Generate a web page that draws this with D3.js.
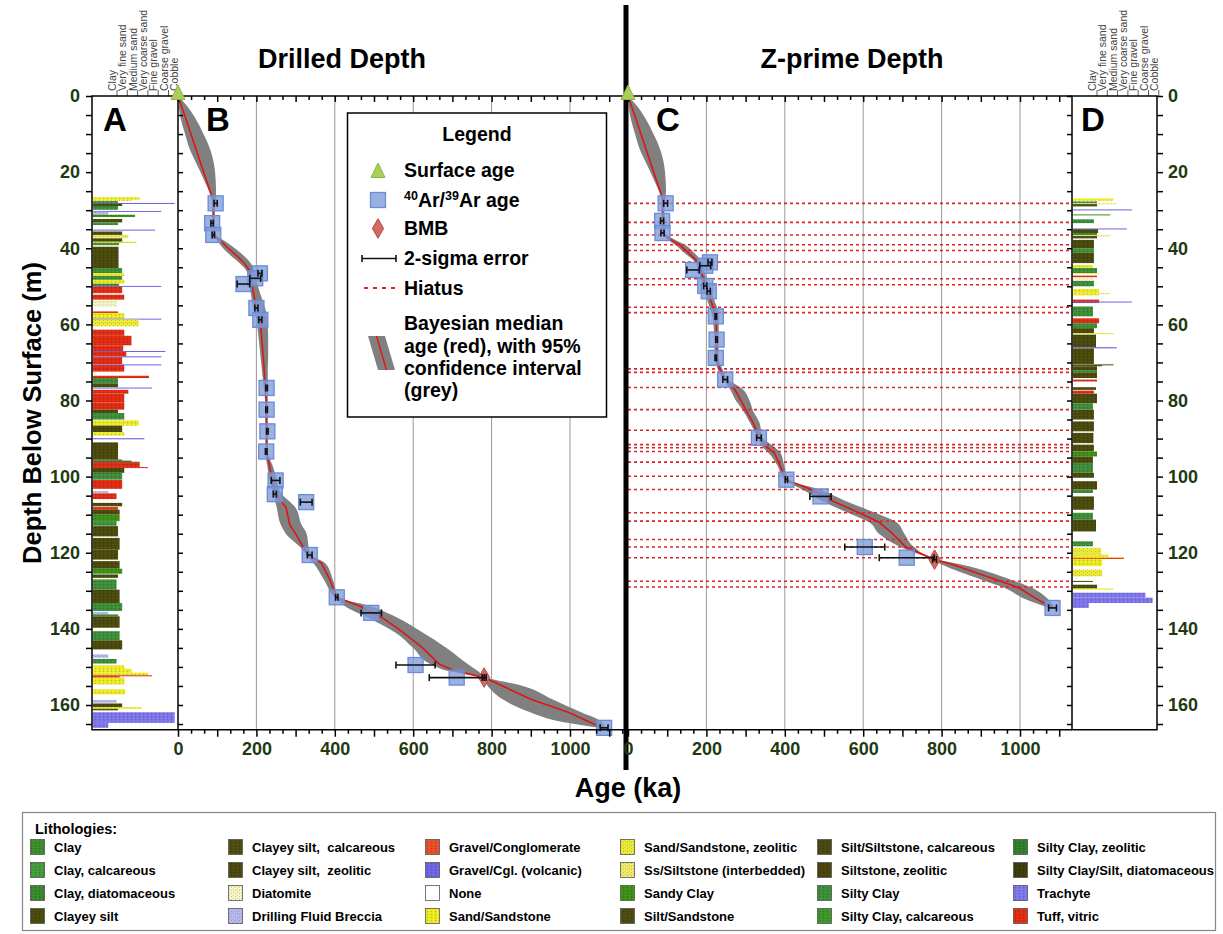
<!DOCTYPE html>
<html><head><meta charset="utf-8">
<script src="https://cdn.jsdelivr.net/npm/d3@7"></script>
<style>
html,body{margin:0;padding:0;background:#fff;}
svg{display:block;font-family:"Liberation Sans",Arial,Helvetica,sans-serif;}
</style></head><body>
<svg id="chart" width="1223" height="934"></svg>
<script>
// ---------- lithology legend ----------
const lithCodes = ["CL","CLc","CLd","CS","CSc","CSz","DI","DB","GC","GV","NO","SS",
                   "SSz","SSi","SC","SiS","SiSc","SiZ","SYC","SYCc","SYCz","SYCd","TR","TV"];
const lithNames = ["Clay","Clay, calcareous","Clay, diatomaceous","Clayey silt",
  "Clayey silt,  calcareous","Clayey silt,  zeolitic","Diatomite","Drilling Fluid Breccia",
  "Gravel/Conglomerate","Gravel/Cgl. (volcanic)","None","Sand/Sandstone",
  "Sand/Sandstone, zeolitic","Ss/Siltstone (interbedded)","Sandy Clay","Silt/Sandstone",
  "Silt/Siltstone, calcareous","Siltstone, zeolitic","Silty Clay","Silty Clay, calcareous",
  "Silty Clay, zeolitic","Silty Clay/Silt, diatomaceous","Trachyte","Tuff, vitric"];
const lithFills = ["#3b8a2c","#42993a","#37872e","#4a4a0e","#4e4b12","#4b4710","#f7f5c4","#b9b8f0",
  "#e0502a","#6d63e0","#ffffff","#e9e624","#eceb3a","#f0ea6a","#3a9015","#4c4a12",
  "#4a4712","#4a430e","#3d8c3a","#3c9428","#2f7d2c","#3e3c0c","#7d74ea","#dd2c14"];

// grain-size column header
const grainLabels = ["Clay","Very fine sand","Medium sand","Very coarse sand","Fine gravel","Coarse gravel","Cobble"];

// ---------- lithology logs: [top m, base m, lithology code, grain size index] ----------
const logA = [
 [26.6,27.3,"SS",2.3],[27.3,27.6,"SSi",1.5],[27.6,28.1,"SYC",0.2],[28.1,28.3,"GV",5.7],
 [28.3,28.9,"CS",0.6],[28.9,29.9,"SYC",0.2],[30.2,30.4,"GV",4.4],[30.4,31.2,"DB",-0.75],
 [31.2,31.8,"SC",1.85],[32.3,33.2,"CS",0.6],[33.2,33.9,"SYC",0.2],[35.1,35.3,"GV",3.8],
 [35.6,36.5,"CS",0.6],[36.5,37.4,"SSi",1.2],[37.4,38.3,"CS",0.6],[38.3,38.6,"SS",2.0],
 [38.6,39.2,"SYC",0.3],[39.6,45.2,"CS",0.25],[45.2,46.5,"SYC",0.6],[46.5,47.3,"SSz",0.8],
 [47.3,48.3,"SYC",0.6],[48.3,49.3,"SS",0.8],[49.3,49.9,"SYC",0.3],[49.9,50.1,"GV",4.4],
 [50.1,51.8,"TV",0.6],[52.2,53.5,"TV",0.8],[53.7,55.3,"DI",0.1],[56.6,57.0,"TV",0.2],
 [57.0,58.5,"SS",0.8],[58.5,58.7,"GV",4.4],[58.7,60.5,"SSz",2.2],[61.4,63.0,"TV",0.8],
 [63.0,65.5,"TV",1.5],[65.5,67.0,"TV",0.7],[67.0,67.2,"GV",4.8],[67.2,68.4,"TV",1.0],
 [68.4,68.6,"GV",4.4],[68.6,70.5,"TV",0.6],[70.5,70.7,"GV",4.4],[70.7,72.4,"TV",0.8],
 [73.5,74.1,"TV",3.2],[74.1,75.5,"SYC",0.2],[75.5,76.5,"CS",0.2],[76.6,76.8,"GV",3.5],
 [77.2,78.2,"TV",1.2],[78.2,80.5,"TV",0.8],[80.5,82.4,"TV",0.8],[82.4,83.3,"CS",0.2],
 [83.3,85.0,"SYC",0.8],[85.2,86.6,"SS",2.2],[86.6,88.3,"CS",0.6],[88.3,89.2,"SS",0.8],
 [89.9,90.2,"GV",2.75],[91.0,95.5,"CS",0.2],[95.5,95.8,"CS",0.6],[95.8,96.1,"CS",1.5],
 [96.1,96.3,"CS",2.3],[96.3,97.5,"TV",2.3],[97.5,97.7,"TV",3.1],[97.7,99.0,"CS",0.8],
 [99.0,100.8,"SYC",0.6],[100.9,103.2,"TV",0.6],[103.8,104.4,"DB",-0.75],[104.4,105.9,"TV",0.05],
 [106.9,107.8,"CS",0.6],[108.0,108.7,"TV",0.2],[108.7,110.0,"CS",0.35],[110.0,111.7,"SC",0.35],
 [111.7,112.9,"SYC",0.05],[113.0,115.7,"CS",0.2],[116.1,119.2,"CS",0.35],[119.2,121.8,"CS",0.2],
 [122.2,124.2,"CS",0.35],[124.2,125.5,"SC",0.6],[125.7,126.6,"CS",0.2],[127.0,129.7,"SYC",0.05],
 [129.7,133.2,"CS",0.35],[133.2,135.3,"SYC",0.6],[135.5,136.2,"DB",-0.75],[136.2,136.7,"SYC",0.2],
 [136.7,139.7,"CS",0.35],[140.6,143.0,"SYC",0.35],[143.0,145.4,"CS",0.6],[146.7,147.6,"DB",-0.75],
 [147.9,149.1,"SYC",0.05],[149.6,150.5,"SS",0.8],[150.5,151.5,"SS",1.5],[151.5,152.2,"SS",3.1],
 [152.2,152.4,"TV",3.5],[152.4,152.8,"TV",0.35],[152.8,154.6,"SS",0.8],[155.9,157.2,"SS",0.9],
 [158.7,159.4,"DB",0.05],[159.6,160.6,"CS",0.6],[160.6,161.0,"SS",2.5],[161.0,161.4,"CS",0.2],
 [161.9,164.7,"TR",5.7],[164.7,166.0,"TR",-0.75]
];
const logD = [
 [26.9,27.5,"SS",1.7],[27.7,28.2,"SYC",0.1],[28.2,28.4,"SSi",2.0],[28.4,29.0,"CS",0.1],
 [29.8,30.0,"GV",3.5],[31.1,31.3,"SC",1.4],[32.4,33.4,"SYC",-0.2],[34.8,35.0,"GV",3.0],
 [35.0,36.0,"CS",0.2],[36.0,36.6,"SYC",0.1],[36.6,36.8,"SSi",1.4],[36.8,37.4,"CS",0.1],
 [37.8,40.0,"CS",-0.2],[40.0,41.2,"SYC",-0.2],[41.2,43.9,"CS",-0.2],[44.4,45.2,"SSz",-0.3],
 [45.2,46.5,"SYC",0.1],[46.5,46.7,"SSi",0.3],[47.2,47.6,"TV",0.1],[47.9,48.6,"DI",-0.2],
 [48.6,50.0,"SYC",-0.2],[50.7,51.8,"SS",0.3],[51.8,52.0,"SSi",1.4],[52.0,52.4,"SS",0.3],
 [53.5,54.4,"TV",0.3],[54.0,54.2,"GV",3.5],[55.3,57.9,"SYC",-0.3],[58.4,59.7,"TV",0.3],
 [59.7,61.0,"SYC",0.1],[61.0,62.3,"CS",-0.2],[62.3,62.5,"SS",1.7],[62.7,66.0,"CS",0.0],
 [66.0,66.3,"GV",2.0],[66.3,70.4,"CS",-0.2],[70.5,70.7,"CS",1.7],[70.7,71.0,"CS",0.6],
 [71.0,72.0,"CS",0.1],[72.0,72.6,"SYC",0.1],[72.6,74.1,"CS",0.1],[74.5,75.0,"TV",0.1],
 [76.5,77.2,"CS",0.0],[77.4,78.2,"TV",-0.2],[78.2,80.7,"CS",0.1],[80.7,82.4,"SYC",-0.3],
 [82.4,85.0,"CS",-0.2],[85.5,88.1,"CS",-0.2],[88.5,91.2,"CS",-0.25],[91.6,93.4,"CS",-0.2],
 [93.4,94.7,"SC",0.1],[94.7,96.4,"CS",-0.3],[96.4,99.0,"SYC",-0.3],[99.0,100.3,"CS",-0.2],
 [101.2,103.4,"CS",0.1],[103.4,104.3,"SYC",-0.3],[105.2,108.7,"CS",-0.2],[109.5,111.3,"SYC",-0.3],
 [111.3,114.4,"CS",0.0],[117.0,118.3,"SYC",-0.3],[118.7,120.5,"SSz",0.5],[120.5,121.2,"SS",1.2],
 [121.2,121.6,"SS",2.7],[121.35,121.5,"TV",2.7],[121.6,123.5,"SS",0.6],[124.4,126.2,"SSz",0.6],
 [127.4,127.6,"CS",-0.3],[128.4,129.4,"CS",0.1],[129.4,129.7,"SS",1.7],[130.5,131.8,"TR",4.8],
 [131.8,133.2,"TR",5.5],[133.2,134.5,"TR",-0.7]
];

// ---------- Drilled depth (panel B) ----------
const arAgeB   = [96, 87, 90, 209, 197, 167, 200, 210, 226, 226, 228, 225, 249, 247, 327, 336, 405, 493, 606, 711, 1087];
const arDepthB = [28.2, 33.4, 36.5, 46.6, 47.9, 49.4, 55.7, 58.8, 76.7, 82.4, 88.1, 93.4, 101.0, 104.6, 106.7, 120.6, 131.7, 135.8, 149.5, 152.8, 166.0];
const arErrB   = [4, 3, 3, 5, 14, 16, 4, 4, 2, 2, 2, 2, 11, 4, 15, 6, 3, 26, 50, 70, 10];
const bmbB = {age: 781, depth: 152.8, err: 5};

const bDepth = [0,3,6,10,14,18,22,25,27.5,30,34,36.5,38,40,42,44,46,48.5,52,55.7,58.8,63,68,72,76,80,88,93.8,97.3,100,104.2,108.2,112.6,115,119.2,121,122.7,127,131.7,134,137.1,141,145,149.3,151.1,152.8,155,158.5,162,164,166];
const bLo  = [0,2,7,18,30,48,66,79,87,88,88,89,100,115,135,158,175,180,186,192,200,205,210,214,218,222,223,223,228,232,242,252,262,275,318,330,345,372,400,425,485,555,600,645,690,775,790,828,900,960,1075];
const bMed = [0,10,20,33,46,59,72,82,90,90,90,92,108,128,150,170,183,186,193,200,210,213,217,220,222,225,226,226,234,238,247,276,285,300,323,336,366,387,405,463,522,575,624,667,709,781,828,900,997,1040,1082];
const bHi  = [0,26,45,65,82,92,96,97,97,94,94,96,118,145,168,186,195,200,210,222,228,230,230,229,229,229,229,230,242,250,262,300,315,328,335,345,375,395,410,490,560,625,685,740,765,787,880,955,1030,1075,1090];

// ---------- Z-prime depth (panel C) ----------
const arAgeC   = [96, 87, 88, 209, 197, 166, 197, 206, 224, 226, 224, 248, 334, 404, 491, 604, 711, 1083];
const arDepthC = [28.2, 32.8, 36.0, 43.7, 44.6, 45.7, 49.9, 51.3, 57.9, 64.0, 68.8, 74.5, 89.8, 100.8, 105.2, 118.5, 121.3, 134.5];
const arErrC   = [5, 4, 4, 5, 14, 16, 4, 4, 2, 2, 2, 6, 6, 3, 27, 51, 70, 10];
const bmbC = {age: 782, depth: 121.8, err: 5};

const cDepth = [0,3,6,10,14,18,22,25,27.3,30,33,36,37.5,39.1,41.3,43.5,46,49.5,53,57.9,63,68.8,71.5,74.5,77,80,82.4,86,89.6,92.1,93.9,96.9,100.8,103.4,106.4,109.9,112,115,118.5,121.8,123.1,127,129.2,132,134.5];
const cLo  = [0,2,7,18,30,48,66,79,86,86,86,87,98,120,145,170,180,190,200,215,220,221,228,243,260,275,292,312,330,342,360,380,400,445,495,570,615,640,695,776,800,900,960,1010,1076];
const cMed = [0,10,20,33,46,59,72,82,88,88,88,90,105,132,155,178,186,197,209,224,226,226,234,248,272,288,300,320,334,353,374,387,404,467,522,598,641,675,709,782,828,938,997,1040,1083];
const cHi  = [0,26,45,65,82,92,96,97,95,93,93,95,115,145,170,188,194,206,218,232,231,231,240,256,292,310,318,336,342,372,390,398,410,490,555,640,685,705,730,788,850,975,1030,1070,1090];

// hiatus levels (Z-prime depth, m)
const hiatusZ = [28.2,33.2,36.5,39.1,40.6,43.6,48.0,49.6,55.5,56.9,71.7,72.6,76.6,82.4,87.8,91.6,92.4,93.4,96.2,99.9,103.4,109.5,111.7,116.5,118.5,121.3,127.5,129.0];

const ageTicks = [0,200,400,600,800,1000];
const depthTicks = [0,20,40,60,80,100,120,140,160];

// ================= drawing =================
const svg = d3.select("#chart");
svg.append("rect").attr("width",1223).attr("height",934).attr("fill","#fff");
const defs = svg.append("defs");
const tickColor = "#1f3a12";

const DEPTH_MAX = 166.5;
const y = d3.scaleLinear().domain([0,160]).range([96,705]);
const yTop = y(0), yBot = y(DEPTH_MAX);
const A = {left:92, right:178}, D = {left:1072, right:1157};
const xB = d3.scaleLinear().domain([0,1000]).range([178,570]);
const xC = d3.scaleLinear().domain([0,1000]).range([628,1020]);
const bRight = 624, cRight = 1072;
const grain = left => d3.scaleLinear().domain([0,6]).range([left+24, left+24+61.8]);

// lithology fill patterns
lithCodes.forEach((code,i)=>{
  const base = lithFills[i];
  const p = defs.append("pattern").attr("id","lith-"+code)
    .attr("patternUnits","userSpaceOnUse").attr("width",4).attr("height",3);
  p.append("rect").attr("width",4).attr("height",3).attr("fill",base);
  if (code !== "NO") {
    const c = d3.color(base);
    const dot = (c.r+c.g+c.b > 500) ? c.darker(0.5) : c.brighter(0.5);
    p.append("rect").attr("x",1).attr("y",1).attr("width",1).attr("height",1).attr("fill",dot);
    p.append("rect").attr("x",3).attr("y",2).attr("width",1).attr("height",1).attr("fill",c.darker(0.6));
  }
});

// vertical grid
function grid(x) {
  svg.append("g").selectAll("line").data(ageTicks.slice(1)).join("line")
    .attr("x1",d=>x(d)).attr("x2",d=>x(d)).attr("y1",yTop).attr("y2",yBot)
    .attr("stroke","#9a9a9a").attr("stroke-width",1);
}
grid(xB); grid(xC);

// lithology columns
function drawLog(log, P) {
  const gx = grain(P.left);
  svg.append("g").selectAll("rect").data(log).join("rect")
    .attr("x",P.left+0.75)
    .attr("y",d=>y(d[0]))
    .attr("width",d=>Math.max(1, gx(d[3]) - P.left - 0.75))
    .attr("height",d=>Math.max(1, y(d[1]) - y(d[0])))
    .attr("fill",d=>`url(#lith-${d[2]})`);
}
drawLog(logA, A); drawLog(logD, D);

// grain-size headers
function header(P) {
  const gx = grain(P.left);
  const g = svg.append("g");
  grainLabels.forEach((t,i)=>{
    g.append("text").attr("transform",`translate(${gx(i)},91) rotate(-90)`)
      .attr("font-size",10.5).attr("fill","#444").text(t);
    g.append("line").attr("x1",gx(i)+1).attr("x2",gx(i)+1).attr("y1",90).attr("y2",96)
      .attr("stroke","#333").attr("stroke-width",0.8);
  });
}
header(A); header(D);

// confidence band + median + hiatus + samples
function ageModel(x, depth, lo, med, hi, ages, depths, errs, bmb, hiatus, right) {
  const rows = depth.map((d,i)=>({d, lo:lo[i], med:med[i], hi:hi[i]}));
  svg.append("path").datum(rows)
    .attr("d", d3.area().curve(d3.curveMonotoneY).y(r=>y(r.d)).x0(r=>x(r.lo)).x1(r=>x(r.hi)))
    .attr("fill","#808080");
  if (hiatus) {
    svg.append("g").selectAll("line").data(hiatus).join("line")
      .attr("x1",x(0)).attr("x2",right).attr("y1",d=>y(d)).attr("y2",d=>y(d))
      .attr("stroke","#e02424").attr("stroke-width",1.6).attr("stroke-dasharray","3,3");
  }
  svg.append("path").datum(rows)
    .attr("d", d3.line().y(r=>y(r.d)).x(r=>x(r.med)))
    .attr("fill","none").attr("stroke","#e01414").attr("stroke-width",1.6);
  const pts = ages.map((a,i)=>({a, d:depths[i], e:errs[i]}));
  svg.append("g").selectAll("rect").data(pts).join("rect")
    .attr("x",p=>x(p.a)-7.5).attr("y",p=>y(p.d)-7.5).attr("width",15).attr("height",15)
    .attr("fill","rgba(125,155,218,0.78)").attr("stroke","#6b8cd4").attr("stroke-width",1.3);
  // BMB
  svg.append("path")
    .attr("d", d3.symbol().type(d3.symbolDiamond).size(110)())
    .attr("transform",`translate(${x(bmb.age)},${y(bmb.depth)})`)
    .attr("fill","#d46a60").attr("stroke","#b04a42").attr("stroke-width",1);
  const eb = svg.append("g").attr("stroke","#111").attr("stroke-width",1.6);
  pts.concat([{a:bmb.age, d:bmb.depth, e:bmb.err}]).forEach(p=>{
    const x0 = x(p.a-p.e), x1 = x(p.a+p.e), yy = y(p.d);
    eb.append("line").attr("x1",x0).attr("x2",x1).attr("y1",yy).attr("y2",yy);
    eb.append("line").attr("x1",x0).attr("x2",x0).attr("y1",yy-3.5).attr("y2",yy+3.5);
    eb.append("line").attr("x1",x1).attr("x2",x1).attr("y1",yy-3.5).attr("y2",yy+3.5);
  });
}
ageModel(xB, bDepth, bLo, bMed, bHi, arAgeB, arDepthB, arErrB, bmbB, null, bRight);
ageModel(xC, cDepth, cLo, cMed, cHi, arAgeC, arDepthC, arErrC, bmbC, hiatusZ, cRight);

// frames
const frame = svg.append("g").attr("stroke","#000").attr("stroke-width",1.5).attr("fill","none");
frame.append("rect").attr("x",A.left).attr("y",yTop).attr("width",A.right-A.left).attr("height",yBot-yTop);
frame.append("rect").attr("x",D.left).attr("y",yTop).attr("width",D.right-D.left).attr("height",yBot-yTop);
frame.append("line").attr("x1",178).attr("x2",bRight).attr("y1",yTop).attr("y2",yTop);
frame.append("line").attr("x1",178).attr("x2",bRight).attr("y1",yBot).attr("y2",yBot);
frame.append("line").attr("x1",628).attr("x2",cRight).attr("y1",yTop).attr("y2",yTop);
frame.append("line").attr("x1",628).attr("x2",cRight).attr("y1",yBot).attr("y2",yBot);
svg.append("rect").attr("x",623.5).attr("y",5).attr("width",5).attr("height",765).attr("fill","#000");

// axis helpers
function styleAxis(g, size) {
  g.select(".domain").remove();
  g.selectAll("line").attr("stroke","#000").attr("stroke-width",1.5);
  g.selectAll("text").attr("font-size",size||18).attr("font-weight","bold")
    .attr("fill",tickColor).attr("font-family","Liberation Sans, Arial, sans-serif");
}
function ageAxes(x, right) {
  const maxA = x.invert(right);
  const minor = d3.range(0, maxA, 100/3).filter(v=>Math.abs(v/100-Math.round(v/100))>1e-6);
  const major = d3.range(0, maxA, 100);
  svg.append("g").attr("transform",`translate(0,${yBot})`)
    .call(d3.axisBottom(x).tickValues(minor).tickSize(4).tickFormat("")).call(styleAxis);
  svg.append("g").attr("transform",`translate(0,${yBot})`)
    .call(d3.axisBottom(x).tickValues(major).tickSize(7).tickPadding(5)
      .tickFormat(d=>ageTicks.includes(d)?d:"")).call(styleAxis);
  svg.append("g").attr("transform",`translate(0,${yTop})`)
    .call(d3.axisTop(x).tickValues(minor).tickSize(-4).tickFormat("")).call(styleAxis);
  svg.append("g").attr("transform",`translate(0,${yTop})`)
    .call(d3.axisTop(x).tickValues(major).tickSize(-6).tickFormat("")).call(styleAxis);
}
ageAxes(xB, bRight); ageAxes(xC, cRight);

const depth5 = d3.range(0, DEPTH_MAX, 5);
svg.append("g").attr("transform",`translate(${A.left},0)`)
  .call(d3.axisLeft(y).tickValues(depth5).tickSize(6).tickPadding(6)
    .tickFormat(d=>depthTicks.includes(d)?d:"")).call(styleAxis);
svg.append("g").attr("transform",`translate(${D.right},0)`)
  .call(d3.axisRight(y).tickValues(depth5).tickSize(6).tickPadding(5)
    .tickFormat(d=>depthTicks.includes(d)?d:"")).call(styleAxis);
svg.append("g").attr("transform",`translate(178,0)`)
  .call(d3.axisRight(y).tickValues(depth5).tickSize(5).tickFormat("")).call(styleAxis);
svg.append("g").attr("transform",`translate(${cRight},0)`)
  .call(d3.axisLeft(y).tickValues(depth5).tickSize(5).tickFormat("")).call(styleAxis);

// surface-age triangles
const triPath = "M0,-10 L7,4.5 L-7,4.5 Z";
[xB, xC].forEach(x=>{
  svg.append("path").attr("d",triPath).attr("transform",`translate(${x(0)},${yTop-1})`)
    .attr("fill","#a8cf5c").attr("stroke","#8db545").attr("stroke-width",1);
});

// titles
const bold = (sel,size)=>sel.attr("font-weight","bold").attr("font-size",size).attr("fill","#000");
bold(svg.append("text").attr("x",342).attr("y",68).attr("text-anchor","middle").text("Drilled Depth"),27);
bold(svg.append("text").attr("x",852).attr("y",68).attr("text-anchor","middle").text("Z-prime Depth"),27);
bold(svg.append("text").attr("transform","translate(41,413) rotate(-90)").attr("text-anchor","middle")
  .text("Depth Below Surface (m)"),25.5);
bold(svg.append("text").attr("x",628).attr("y",797).attr("text-anchor","middle").text("Age (ka)"),27);
[["A",103],["B",206],["C",656],["D",1081]].forEach(([t,x])=>
  bold(svg.append("text").attr("x",x).attr("y",131).text(t),33));

// legend box
const L = svg.append("g");
L.append("rect").attr("x",347.5).attr("y",113).attr("width",259).attr("height",304)
  .attr("fill","#fff").attr("stroke","#000").attr("stroke-width",1.5);
bold(L.append("text").attr("x",477).attr("y",141).attr("text-anchor","middle").text("Legend"),19.5);
L.append("path").attr("d",triPath).attr("transform","translate(378,173)")
  .attr("fill","#a8cf5c").attr("stroke","#8db545");
L.append("rect").attr("x",370.5).attr("y",192.5).attr("width",15).attr("height",15)
  .attr("fill","rgba(125,155,218,0.78)").attr("stroke","#6b8cd4").attr("stroke-width",1.3);
L.append("path").attr("d", d3.symbol().type(d3.symbolDiamond).size(110)())
  .attr("transform","translate(378,228.5)").attr("fill","#d46a60").attr("stroke","#b04a42");
const le = L.append("g").attr("stroke","#111").attr("stroke-width",1.6);
le.append("line").attr("x1",362).attr("x2",396).attr("y1",258.5).attr("y2",258.5);
le.append("line").attr("x1",362).attr("x2",362).attr("y1",255).attr("y2",262);
le.append("line").attr("x1",396).attr("x2",396).attr("y1",255).attr("y2",262);
L.append("line").attr("x1",364).attr("x2",399).attr("y1",288).attr("y2",288)
  .attr("stroke","#e02424").attr("stroke-width",2).attr("stroke-dasharray","4,5");
L.append("path").attr("d","M368,336 L385,336 L395,370 L378,370 Z").attr("fill","#808080");
L.append("line").attr("x1",376.5).attr("y1",336).attr("x2",386.5).attr("y2",370)
  .attr("stroke","#e01414").attr("stroke-width",1.4);
const lt = (yy, txt)=>bold(L.append("text").attr("x",404).attr("y",yy).text(txt),19.5);
lt(177,"Surface age");
const ar = bold(L.append("text").attr("x",404).attr("y",207),19.5);
ar.append("tspan").attr("font-size",12.5).attr("dy",-7).text("40");
ar.append("tspan").attr("dy",7).text("Ar/");
ar.append("tspan").attr("font-size",12.5).attr("dy",-7).text("39");
ar.append("tspan").attr("dy",7).text("Ar age");
lt(235,"BMB"); lt(265,"2-sigma error"); lt(295,"Hiatus");
lt(330,"Bayesian median"); lt(353,"age (red), with 95%"); lt(375,"confidence interval"); lt(397,"(grey)");

// lithology legend
const LL = svg.append("g");
LL.append("rect").attr("x",22.5).attr("y",812.5).attr("width",1193).attr("height",118)
  .attr("fill","#fff").attr("stroke","#888").attr("stroke-width",1.2);
bold(LL.append("text").attr("x",35).attr("y",834).text("Lithologies:"),14.5);
const colX = [30,228,425,620,817,1013], rowY = [847,870,893,916];
lithNames.forEach((name,i)=>{
  const cx = colX[Math.floor(i/4)], cy = rowY[i%4];
  LL.append("rect").attr("x",cx+0.5).attr("y",cy-7.5).attr("width",14).attr("height",15)
    .attr("fill",`url(#lith-${lithCodes[i]})`).attr("stroke","#555").attr("stroke-width",0.8);
  bold(LL.append("text").attr("x",cx+24).attr("y",cy+5).style("white-space","pre").text(name),13);
});
</script></body></html>
